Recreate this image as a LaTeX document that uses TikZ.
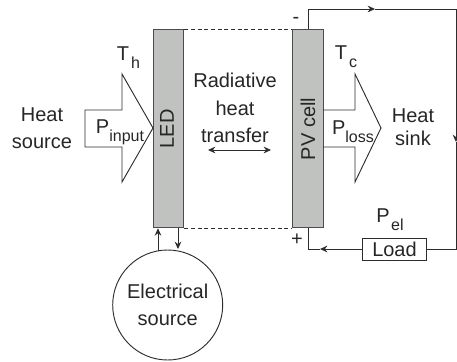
\documentclass[tikz,border=0pt]{standalone}
\usepackage{fontspec}
\setmainfont{Liberation Sans}
\usetikzlibrary{arrows.meta}
\definecolor{cellgray}{RGB}{192,194,192}
\definecolor{inkgray}{RGB}{45,45,45}
\newcommand{\lowsub}[1]{\raisebox{-0.75ex}{\fontsize{12}{14}\selectfont #1}}
\tikzset{
	cellbox/.style={draw=inkgray!85, fill=cellgray, line width=0.9pt, minimum width=23pt, minimum height=148.5pt, inner sep=0pt},
	wire/.style={draw=inkgray, line width=0.7pt},
	label/.style={font=\fontsize{15}{20.5}\selectfont, text=black!85, align=center, inner sep=0pt},
}
\begin{document}
\begin{tikzpicture}[>={Stealth[length=5.5pt,width=5pt]}, x=0.75pt, y=-0.75pt]
	\useasboundingbox (0,0) rectangle (457,361);

	% === cells ===
	\node[cellbox] (led) at (168.5,128.7) {};
	\node[label, rotate=90] (ledlabel) at (167,129) {LED};
	\node[cellbox] (pv) at (308,128.7) {};
	\node[label, rotate=90] (pvlabel) at (308,129) {PV cell};
	\draw[wire, densely dashed] (led.north east) -- (pv.north west);
	\draw[wire, densely dashed] (led.south east) -- (pv.south west);

	% heat arrows
	\draw[wire] (122,110) -- (85,110) -- (85,147) -- (122,147) -- (122,182) -- (153,128) -- (122,74) -- cycle;
	\draw[wire] (323,110) -- (355,110) -- (355,74) -- (381,128) -- (355,182) -- (355,147) -- (323,147);

	% labels
	\node[label] (heatsource) at (42,128) {Heat\\source};
	\node[label] (th) at (128.5,58) {T\hspace{1.5pt}\lowsub{h}};
	\node[label] (pinput) at (120,132) {P\lowsub{input}};
	\node[label] (radiative) at (235,108) {Radiative\\heat\\transfer};
	\node[label] (tc) at (346,57) {T\hspace{1.5pt}\lowsub{c}};
	\node[label] (ploss) at (353,132) {P\lowsub{loss}};
	\node[label, font=\fontsize{15}{17}\selectfont] (heatsink) at (413,127) {Heat\\sink};
	\node[label] (pel) at (390,220) {P\hspace{1pt}\lowsub{el}};
	\node[label] (minus) at (296,20) {-};
	\node[label] (plus) at (297,240) {+};

	% radiative arrow
	\coordinate (radl) at (208,150);
	\coordinate (radr) at (271,150);
	\draw[wire, <->] (radl) -- (radr);

	% === electrical source ===
	\node[label, draw=inkgray, circle, line width=0.7pt, minimum size=82.5pt] (source) at (167.7,305) {Electrical\\source};
	\coordinate (srcup) at (158,250.5);
	\coordinate (srcdown) at (178,249);
	\draw[wire, ->] (srcup) -- (srcup |- led.south);
	\draw[wire, ->] (srcdown |- led.south) -- (srcdown);

	% === load circuit ===
	\node[label, draw=inkgray, line width=0.7pt, minimum width=48.5pt, minimum height=16.5pt] (load) at (394.5,249) {Load};
	\coordinate (topleft) at (308,9);
	\coordinate (topmid) at (375,9);
	\coordinate (topright) at (456,9);
	\coordinate (sidemid) at (456,142);
	\coordinate (botright) at (456,249);
	\coordinate (botmid) at (320,249);
	\coordinate (botleft) at (308,249);
	\draw[wire, ->] (pv.north) -- (topleft) -- (topmid);
	\draw[wire, ->] (topmid) -- (topright) -- (sidemid);
	\draw[wire] (sidemid) -- (botright) -- (load.east);
	\draw[wire, ->] (load.west) -- (botmid);
	\draw[wire] (botmid) -- (botleft) -- (pv.south);
\end{tikzpicture}
\end{document}
